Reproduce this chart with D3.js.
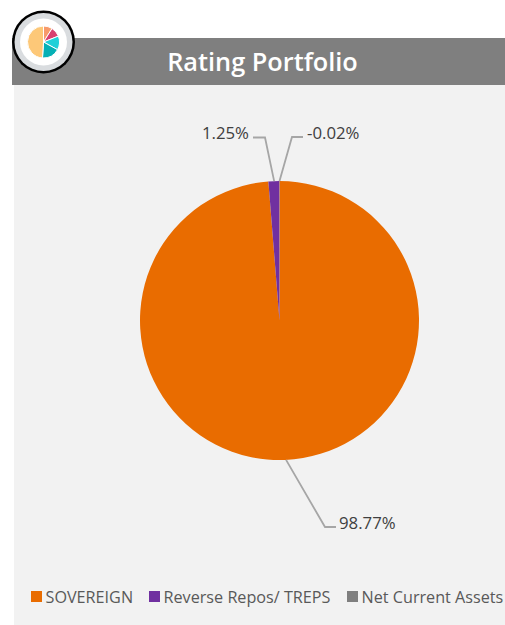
<!DOCTYPE html>
<html>
<head>
<meta charset="utf-8">
<script src="https://cdn.jsdelivr.net/npm/d3@7"></script>
<style>
    html, body { margin: 0; padding: 0; background: #fff; }
    svg { display: block; }
    text { font-family: "Open Sans", sans-serif; }
</style>
</head>
<body>
<svg id="drawing_region"></svg>
<script>
const title = "Rating Portfolio";
const categories = ["SOVEREIGN", "Reverse Repos/ TREPS", "Net Current Assets"];
const values = [98.77, 1.25, -0.02];
const valueLabels = ["98.77%", "1.25%", "-0.02%"];
const colors = ["#e96c00", "#7030a0", "#7f7f7f"];

// small decorative pie in the badge
const iconValues = [9, 10, 14, 18, 49];
const iconColors = ["#f79a6b", "#d8406f", "#1fd0d8", "#05b0b5", "#fdc878"];

const width = 505, height = 625;
const center = {x: 279.5, y: 320.5};
const radius = 139.5;

const svg = d3.select("#drawing_region")
    .attr("width", width)
    .attr("height", height);

// header band and panel
svg.append("rect").attr("x", 12).attr("y", 38).attr("width", 493).attr("height", 47).attr("fill", "#7f7f7f");
svg.append("rect").attr("x", 14).attr("y", 85).attr("width", 491).attr("height", 540).attr("fill", "#f2f2f2");

svg.append("text")
    .attr("x", 262.5)
    .attr("y", 71)
    .attr("text-anchor", "middle")
    .attr("fill", "#fff")
    .style("font-size", "25.3px")
    .style("font-weight", 600)
    .text(title);

// badge
const badge = svg.append("g").attr("transform", "translate(43.5,42)");
badge.append("circle").attr("r", 31.5).attr("fill", "#000");
badge.append("circle").attr("r", 29).attr("fill", "#d9dcdf");
badge.append("circle").attr("r", 23.5).attr("fill", "#fff");

const iconPie = d3.pie().sort(null);
const iconArc = d3.arc().innerRadius(0).outerRadius(16);
badge.selectAll("path")
    .data(iconPie(iconValues))
    .join("path")
    .attr("d", iconArc)
    .attr("fill", (d, i) => iconColors[i])
    .attr("stroke", "#fff")
    .attr("stroke-width", 1);

// main pie
const pie = d3.pie().sort(null).value(d => Math.abs(d));
const arc = d3.arc().innerRadius(0).outerRadius(radius);
const slices = pie(values);

const chart = svg.append("g").attr("transform", `translate(${center.x},${center.y})`);

chart.selectAll("path")
    .data(slices)
    .join("path")
    .attr("d", arc)
    .attr("fill", (d, i) => colors[i]);

// leader lines: elbow point relative to the pie centre, then a short horizontal run
const leaders = [
    {angle: 177.3, elbow: [45.5, 206.5], end: [56.5, 206.5], anchor: "start", text: [59.5, 208]},
    {angle: -2.2, elbow: [-14.5, -183], end: [-26.5, -183], anchor: "end", text: [-30.5, -182]},
    {angle: 0, elbow: [12.5, -183.5], end: [23.5, -183.5], anchor: "start", text: [27.5, -182]}
];
const line = d3.line();

leaders.forEach((l, i) => {
    const a = l.angle * Math.PI / 180;
    const start = [Math.sin(a) * radius, -Math.cos(a) * radius];
    chart.append("path")
        .attr("d", line([start, l.elbow, l.end]))
        .attr("fill", "none")
        .attr("stroke", "#a6a6a6")
        .attr("stroke-width", 1.8);
    chart.append("text")
        .attr("x", l.text[0])
        .attr("y", l.text[1])
        .attr("text-anchor", l.anchor)
        .attr("fill", "#404040")
        .style("font-size", "16.8px")
        .text(valueLabels[i]);
});

// legend
const legendX = d3.scaleOrdinal().domain(categories).range([31, 149, 347]);
const legend = svg.append("g").selectAll("g")
    .data(categories)
    .join("g")
    .attr("transform", d => `translate(${legendX(d)},591)`);

legend.append("rect")
    .attr("width", 11)
    .attr("height", 11)
    .attr("fill", (d, i) => colors[i]);

legend.append("text")
    .attr("x", 14.5)
    .attr("y", 11.5)
    .attr("fill", "#595959")
    .style("font-size", "16.2px")
    .text(d => d);
</script>
</body>
</html>
